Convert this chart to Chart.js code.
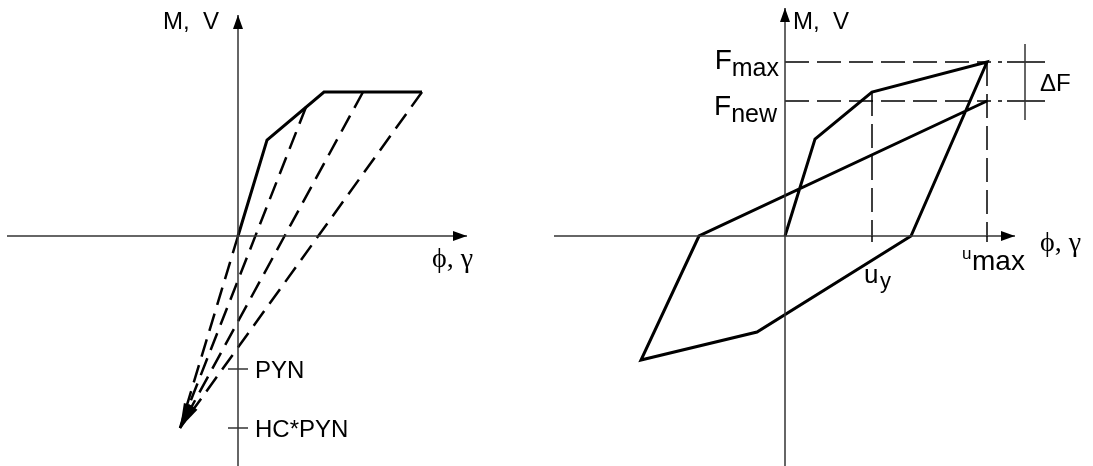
<!DOCTYPE html>
<html>
<head>
<meta charset="utf-8">
<script src="https://cdn.jsdelivr.net/npm/chart.js@4.4.1/dist/chart.umd.min.js"></script>
<style>
  html, body { margin: 0; padding: 0; background: #fff; }
  #wrap { position: relative; width: 1093px; height: 466px; overflow: hidden; }
  canvas { position: absolute; top: 0; }
  #left { left: 0; }
  #right { left: 546px; }
</style>
</head>
<body>
<div id="wrap">
  <canvas id="left" width="546" height="466"></canvas>
  <canvas id="right" width="547" height="466"></canvas>
</div>
<script>
// ---- Left diagram: backbone curve with unloading branches ----
const backboneX = [0, 2.9, 8.6, 18.4];
const backboneM = [0, 9.6, 14.4, 14.4];
const unloadStartX = [0, 6.8, 12.5, 18.4];
const unloadStartM = [0, 12.9, 14.4, 14.4];
const targetX = -5.8;          // common point the unloading branches head for
const PYN = -13.3;
const HC_PYN = -19.2;
const leftAxisX = [-23.1, 22.9];
const leftAxisM = [-23.0, 22.1];

// ---- Right diagram: hysteresis loop ----
const loopX = [0, 3.0, 8.7, 20.2, 12.6, -2.8, -14.4, -8.6, 20.2];
const loopF = [0, 9.7, 14.4, 17.4, 0, -9.6, -12.4, 0, 13.5];
const uY = 8.7, fY = 14.4;
const uMax = 20.2, fMax = 17.4, fNew = 13.5;
const rightAxisX = [-23.1, 23.0];
const rightAxisF = [-23.0, 22.8];

const SANS = '"Liberation Sans", Arial, sans-serif';
const SERIF = '"Liberation Serif", "DejaVu Serif", "Times New Roman", serif';
const AXIS_COLOR = '#333';

function line(xs, ys, style) {
  return {
    data: xs.map((x, i) => ({ x: x, y: ys[i] })),
    showLine: true,
    pointRadius: 0,
    fill: false,
    tension: 0,
    borderColor: style.color || '#000',
    borderWidth: style.width || 2,
    borderDash: style.dash || [],
    borderJoinStyle: 'miter',
    borderCapStyle: 'butt'
  };
}

function arrowHead(ctx, tip, from, len, halfW, color) {
  const dx = tip.x - from.x, dy = tip.y - from.y;
  const d = Math.hypot(dx, dy);
  const ux = dx / d, uy = dy / d;
  const bx = tip.x - ux * len, by = tip.y - uy * len;
  ctx.save();
  ctx.fillStyle = color;
  ctx.beginPath();
  ctx.moveTo(tip.x, tip.y);
  ctx.lineTo(bx - uy * halfW, by + ux * halfW);
  ctx.lineTo(bx + uy * halfW, by - ux * halfW);
  ctx.closePath();
  ctx.fill();
  ctx.restore();
}

function seg(ctx, x1, y1, x2, y2, color, width, dash) {
  ctx.save();
  ctx.strokeStyle = color;
  ctx.lineWidth = width;
  ctx.setLineDash(dash || []);
  ctx.beginPath();
  ctx.moveTo(x1, y1);
  ctx.lineTo(x2, y2);
  ctx.stroke();
  ctx.restore();
}

function text(ctx, str, x, y, font, align) {
  ctx.save();
  ctx.fillStyle = '#000';
  ctx.font = font;
  ctx.textAlign = align || 'left';
  ctx.textBaseline = 'alphabetic';
  ctx.fillText(str, x, y);
  ctx.restore();
}

function textWidth(ctx, str, font) {
  ctx.save();
  ctx.font = font;
  const w = ctx.measureText(str).width;
  ctx.restore();
  return w;
}

function makeChart(id, datasets, xr, yr, draw) {
  return new Chart(document.getElementById(id), {
    type: 'scatter',
    data: { datasets: datasets },
    options: {
      responsive: false,
      animation: false,
      devicePixelRatio: 1,
      events: [],
      layout: { padding: 0 },
      plugins: { legend: { display: false }, tooltip: { enabled: false } },
      scales: {
        x: { type: 'linear', display: false, min: xr[0], max: xr[1] },
        y: { type: 'linear', display: false, min: yr[0], max: yr[1] }
      }
    },
    plugins: [{ id: 'annotations', afterDatasetsDraw: (chart) => draw(chart) }]
  });
}

// ---- left chart ----
const leftSets = [
  line(leftAxisX, [0, 0], { color: AXIS_COLOR, width: 1.5 }),
  line([0, 0], leftAxisM, { color: AXIS_COLOR, width: 1.5 }),
  line(backboneX, backboneM, { width: 3 })
];
unloadStartX.forEach((x0, i) => {
  leftSets.push(line([x0, targetX], [unloadStartM[i], HC_PYN], { width: 2.5, dash: [18, 9] }));
});

makeChart('left', leftSets, [-23.8, 30.8], [-23.0, 23.6], (chart) => {
  const ctx = chart.ctx, sx = chart.scales.x, sy = chart.scales.y;
  const X = (v) => sx.getPixelForValue(v), Y = (v) => sy.getPixelForValue(v);
  const ox = X(0), oy = Y(0);

  // axis arrows
  arrowHead(ctx, { x: X(leftAxisX[1]), y: oy }, { x: ox, y: oy }, 14, 5, '#000');
  arrowHead(ctx, { x: ox, y: Y(leftAxisM[1]) }, { x: ox, y: oy }, 14, 5, '#000');

  // arrowheads at the end of the unloading branches
  const tip = { x: X(targetX), y: Y(HC_PYN) };
  unloadStartX.forEach((x0, i) => {
    arrowHead(ctx, tip, { x: X(x0), y: Y(unloadStartM[i]) }, 25, 3.5, '#000');
  });

  // level ticks on the M axis
  [PYN, HC_PYN].forEach((v) => seg(ctx, ox - 10, Y(v), ox + 10, Y(v), AXIS_COLOR, 1.5));

  text(ctx, 'M,  V', ox - 75, 29, '24px ' + SANS);
  text(ctx, '\u03D5, \u03B3', ox + 194, 267, '28px ' + SERIF);
  text(ctx, 'PYN', ox + 17, Y(PYN) + 9, '24px ' + SANS);
  text(ctx, 'HC*PYN', ox + 17, Y(HC_PYN) + 9, '24px ' + SANS);
});

// ---- right chart ----
const dashGuide = { width: 1.5, dash: [24, 8] };
const rightSets = [
  line(rightAxisX, [0, 0], { color: AXIS_COLOR, width: 1.5 }),
  line([0, 0], rightAxisF, { color: AXIS_COLOR, width: 1.5 }),
  line([0, uMax], [fMax, fMax], dashGuide),
  line([0, uMax], [fNew, fNew], dashGuide),
  line([uY, uY], [fY, 0], dashGuide),
  line([uMax, uMax], [fMax, 0], dashGuide),
  line(loopX, loopF, { width: 3 })
];

makeChart('right', rightSets, [-23.9, 30.8], [-23.0, 23.6], (chart) => {
  const ctx = chart.ctx, sx = chart.scales.x, sy = chart.scales.y;
  const X = (v) => sx.getPixelForValue(v), Y = (v) => sy.getPixelForValue(v);
  const ox = X(0), oy = Y(0);

  arrowHead(ctx, { x: X(rightAxisX[1]), y: oy }, { x: ox, y: oy }, 14, 5, '#000');
  arrowHead(ctx, { x: ox, y: Y(rightAxisF[1]) }, { x: ox, y: oy }, 14, 5, '#000');

  // small ticks where the displacement guides cross the axis
  [uY, uMax].forEach((u) => seg(ctx, X(u), oy, X(u), oy + 6, '#000', 1.5));

  // delta F bracket
  const xm = X(uMax);
  seg(ctx, xm, Y(fMax), xm + 20, Y(fMax), '#000', 1.5, [4, 7]);
  seg(ctx, xm, Y(fNew), xm + 20, Y(fNew), '#000', 1.5, [4, 7]);
  seg(ctx, xm + 20, Y(fMax), xm + 58, Y(fMax), '#000', 1.5);
  seg(ctx, xm + 20, Y(fNew), xm + 58, Y(fNew), '#000', 1.5);
  seg(ctx, xm + 38, Y(fMax) - 18, xm + 38, Y(fNew) + 19, AXIS_COLOR, 1.5);
  text(ctx, '\u0394F', xm + 53, Y(fMax) + 29, '24px ' + SANS);

  // F labels with subscripts
  const subFont = '25px ' + SANS, mainFont = '28px ' + SANS;
  const wMax = textWidth(ctx, 'max', subFont);
  const wNew = textWidth(ctx, 'new', subFont);
  text(ctx, 'max', ox - 6, Y(fMax) + 14, subFont, 'right');
  text(ctx, 'F', ox - 6 - wMax, Y(fMax) + 7, mainFont, 'right');
  text(ctx, 'new', ox - 8, Y(fNew) + 21, subFont, 'right');
  text(ctx, 'F', ox - 8 - wNew, Y(fNew) + 14, mainFont, 'right');

  // displacement labels
  text(ctx, 'u', X(uY) - 8, oy + 47, '26px ' + SANS);
  text(ctx, 'y', X(uY) + 8, oy + 52, '22px ' + SANS);
  text(ctx, 'u', xm - 25, oy + 23, '17px ' + SANS);
  text(ctx, 'max', xm - 15, oy + 34, '28px ' + SANS);

  text(ctx, 'M,  V', ox + 8, 29, '24px ' + SANS);
  text(ctx, '\u03D5, \u03B3', X(rightAxisX[1]) + 25, oy + 15, '28px ' + SERIF);
});
</script>
</body>
</html>
